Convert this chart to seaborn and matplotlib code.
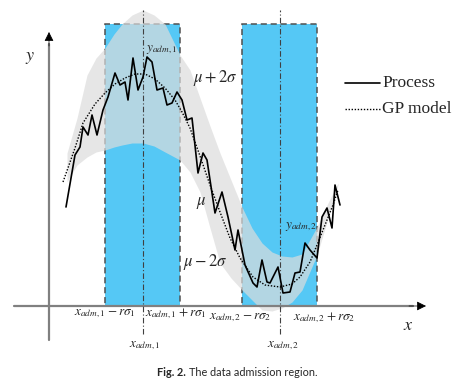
import numpy as np
import matplotlib
matplotlib.use('Agg')
import matplotlib.pyplot as plt
import seaborn as sns
from matplotlib.patches import Rectangle

# schematic coordinates: origin at the axis crossing, y up
process_x = [17, 26, 31, 34, 39, 43, 48, 54, 59, 66, 71, 76, 79, 84, 89, 94, 98, 103,
             108, 114, 118, 123, 128, 133, 138, 143, 149, 154, 158, 166, 173, 179, 186,
             189, 196, 204, 208, 213, 218, 221, 229, 234, 241, 246, 251, 256, 261, 268,
             273, 278, 283, 286, 291]
process_y = [99, 151, 159, 179, 171, 191, 171, 196, 209, 233, 221, 224, 206, 248, 216,
             229, 249, 244, 216, 218, 201, 203, 214, 206, 186, 188, 133, 153, 146, 93,
             114, 89, 56, 76, 41, 23, 19, 46, 24, 23, 39, 13, 14, 33, 34, 63, 56, 48,
             89, 98, 78, 121, 101]

gp_x = [14, 26, 34, 46, 56, 66, 76, 86, 96, 106, 116, 126, 133, 141, 151, 161, 171,
        181, 191, 204, 216, 231, 243, 251, 261, 268, 276, 284, 289]
gp_y = [124, 158, 183, 202, 213, 222, 228, 232, 232, 227, 218, 206, 194, 178, 150,
        121, 94, 68, 48, 29, 21, 19, 22, 29, 44, 61, 81, 101, 116]

band_x = [18, 28, 38, 47, 56, 65, 73, 83, 94, 105, 116, 131, 141, 151, 161, 171, 182,
          193, 203, 213, 223, 233, 243, 253, 268, 278, 289]
band_upper = [153, 188, 231, 248, 258, 272, 282, 291, 296, 291, 282, 251, 236, 208, 180,
              153, 126, 99, 78, 63, 54, 50, 49, 52, 79, 101, 123]
band_lower = [124, 141, 149, 154, 156, 159, 161, 163, 163, 160, 154, 146, 134, 114, 78,
              43, 28, 16, 6, -4, -5, -2, 4, 16, 51, 84, 121]

# admission windows (left, right, centre)
win_left = [56, 193]
win_right = [131, 268]
win_center = [94, 231]
win_top = 282

sns.set_style('white')
plt.rcParams['mathtext.fontset'] = 'stix'
plt.rcParams['font.family'] = ['Liberation Serif', 'DejaVu Serif']

fig = plt.figure(figsize=(4.56, 3.86), dpi=100)
ax = fig.add_axes([0, 0, 1, 1])
ax.set_xlim(-49, 407)
ax.set_ylim(-80, 306)
ax.axis('off')

cyan = '#55C8F5'
for l, r in zip(win_left, win_right):
    ax.add_patch(Rectangle((l, 0), r - l, win_top, facecolor=cyan,
                           edgecolor='#505050', lw=1.1, ls=(0, (4, 2.5)), zorder=1))

# mu +/- 2 sigma band, semi transparent over the windows
ax.fill_between(band_x, band_lower, band_upper, color='#DCDCDC', alpha=0.7,
                lw=0, zorder=2)

# axes with arrows
ax.plot([0, 0], [-34, 262], color='#808080', lw=1.6, zorder=3)
ax.plot([-35, 364], [0, 0], color='#808080', lw=1.6, zorder=3)
ax.annotate('', xy=(0, 274), xytext=(0, 260),
            arrowprops=dict(arrowstyle='-|>', color='black', lw=0.5,
                            mutation_scale=14, shrinkA=0, shrinkB=0), zorder=4)
ax.annotate('', xy=(377, 0), xytext=(360, 0),
            arrowprops=dict(arrowstyle='-|>', color='black', lw=0.5,
                            mutation_scale=14, shrinkA=0, shrinkB=0), zorder=4)

for c in win_center:
    ax.plot([c, c], [-28, 296], color='#404040', lw=0.8,
            ls=(0, (5, 2, 1, 2)), zorder=3)

sns.lineplot(x=gp_x, y=gp_y, sort=False, estimator=None, color='black',
             lw=1.0, ls=(0, (1, 1.2)), ax=ax, zorder=5)
sns.lineplot(x=process_x, y=process_y, sort=False, estimator=None, color='black',
             lw=1.2, ax=ax, zorder=6)

# legend drawn by hand like the figure
ax.plot([296, 331], [223, 223], color='black', lw=1.2)
ax.plot([296, 331], [197, 197], color='black', lw=1.0, ls=(0, (1, 1.2)))
ax.text(333, 223, 'Process', fontsize=12.5, va='center', ha='left')
ax.text(333, 197, 'GP model', fontsize=12.5, va='center', ha='left')

fs = 9.5
ax.text(-19, 249, '$y$', fontsize=13, ha='center', va='center')
ax.text(359, -19, '$x$', fontsize=13, ha='center', va='center')
ax.text(97, 256, '$y_{adm,1}$', fontsize=fs, ha='left', va='center')
ax.text(236, 79, '$y_{adm,2}$', fontsize=fs, ha='left', va='center')
ax.text(144, 228, r'$\mu+2\sigma$', fontsize=12, ha='left', va='center')
ax.text(147, 103, r'$\mu$', fontsize=12, ha='left', va='center')
ax.text(134, 44, r'$\mu-2\sigma$', fontsize=12, ha='left', va='center')

ax.text(56, -8, r'$x_{adm,1}-r\sigma_1$', fontsize=fs, ha='center', va='center')
ax.text(127, -8, r'$x_{adm,1}+r\sigma_1$', fontsize=fs, ha='center', va='center')
ax.text(96, -40, r'$x_{adm,1}$', fontsize=fs, ha='center', va='center')
ax.text(191, -12, r'$x_{adm,2}-r\sigma_2$', fontsize=fs, ha='center', va='center')
ax.text(275, -12, r'$x_{adm,2}+r\sigma_2$', fontsize=fs, ha='center', va='center')
ax.text(234, -40, r'$x_{adm,2}$', fontsize=fs, ha='center', va='center')

fig.text(0.345, 1 - 372 / 386, 'Fig. 2.', fontsize=7.8, fontweight='bold',
         family='Lato', ha='left', va='center')
fig.text(0.414, 1 - 372 / 386, 'The data admission region.', fontsize=7.8,
         family='Lato', ha='left', va='center')

fig.savefig('out.png', dpi=100)
